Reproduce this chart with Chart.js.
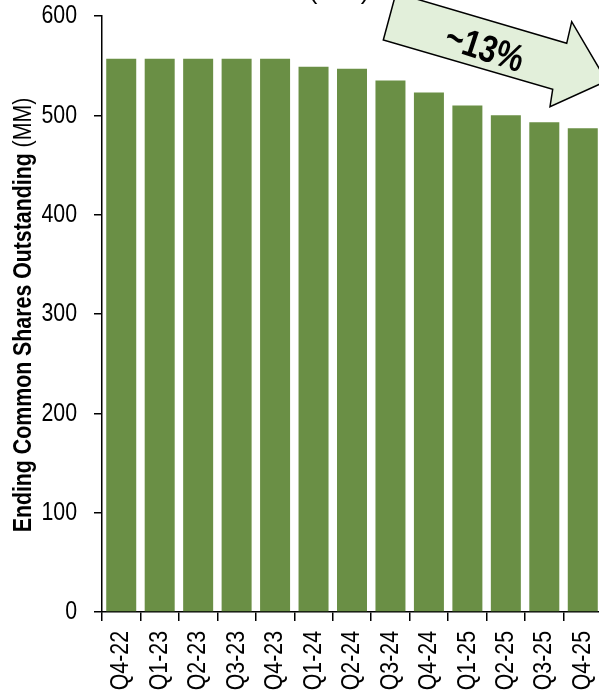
<!DOCTYPE html>
<html>
<head>
<meta charset="utf-8">
<script src="https://cdn.jsdelivr.net/npm/chart.js@4.4.1/dist/chart.umd.min.js"></script>
<style>
html,body{margin:0;padding:0;background:#fff;overflow:hidden;}
#c{display:block;}
</style>
</head>
<body>
<canvas id="c" width="602" height="693"></canvas>
<script>
// ---- data ----
const categories = ['Q4-22','Q1-23','Q2-23','Q3-23','Q4-23','Q1-24','Q2-24','Q3-24','Q4-24','Q1-25','Q2-25','Q3-25','Q4-25'];
const sharesOutstanding = [557, 557, 557, 557, 557, 549, 547, 535, 523, 510, 500, 493, 487];
const yTickValues = [0, 100, 200, 300, 400, 500, 600];
const yTitleMain = 'Ending Common Shares Outstanding';
const yTitleUnit = '(MM)';
const headerText = '(MM)';
const arrowLabel = '~13%';

// Narrow face emulation: no "Arial Narrow" installed, so text whose font list
// starts with the marker family is drawn horizontally condensed.
const NARROW = 0.82;
const FONT = '"NarrowX", "Liberation Sans", Arial, sans-serif';
(function patchCtx() {
  const P = CanvasRenderingContext2D.prototype;
  const fill = P.fillText, measure = P.measureText;
  P.fillText = function (t, x, y, mw) {
    if (this.font.indexOf('NarrowX') >= 0) {
      this.save();
      this.translate(x, y);
      this.scale(NARROW, 1);
      fill.call(this, t, 0, 0);
      this.restore();
    } else {
      fill.call(this, t, x, y, mw);
    }
  };
  P.measureText = function (t) {
    const m = measure.call(this, t);
    if (this.font.indexOf('NarrowX') >= 0) {
      return {
        width: m.width * NARROW,
        actualBoundingBoxAscent: m.actualBoundingBoxAscent,
        actualBoundingBoxDescent: m.actualBoundingBoxDescent,
        actualBoundingBoxLeft: m.actualBoundingBoxLeft * NARROW,
        actualBoundingBoxRight: m.actualBoundingBoxRight * NARROW
      };
    }
    return m;
  };
})();
Chart.defaults.font.family = FONT;

const decor = {
  id: 'decor',
  afterDraw(chart) {
    const ctx = chart.ctx;
    // cut-off header text
    ctx.save();
    ctx.fillStyle = '#000';
    ctx.font = '26px "Liberation Sans", Arial, sans-serif';
    ctx.textAlign = 'center';
    ctx.textBaseline = 'alphabetic';
    ctx.fillText(headerText, 339, -1);
    ctx.restore();

    // y-axis title (mixed weights)
    ctx.save();
    ctx.translate(31, 315);
    ctx.rotate(-Math.PI / 2);
    ctx.fillStyle = '#000';
    ctx.textBaseline = 'alphabetic';
    const boldFont = 'bold 26px ' + FONT;
    const regFont = '26px ' + FONT;
    ctx.font = boldFont;
    const w1 = ctx.measureText(yTitleMain + ' ').width;
    ctx.font = regFont;
    const w2 = ctx.measureText(yTitleUnit).width;
    const x0 = -(w1 + w2) / 2;
    ctx.textAlign = 'left';
    ctx.font = boldFont;
    ctx.fillText(yTitleMain + ' ', x0, 0);
    ctx.font = regFont;
    ctx.fillText(yTitleUnit, x0 + w1, 0);
    ctx.restore();

    // arrow
    ctx.save();
    ctx.beginPath();
    ctx.moveTo(396, -7);
    ctx.lineTo(566.7, 43.3);
    ctx.lineTo(571.7, 21.7);
    ctx.lineTo(606.6, 81);
    ctx.lineTo(550, 106.7);
    ctx.lineTo(552.7, 89.3);
    ctx.lineTo(383.3, 40);
    ctx.closePath();
    ctx.fillStyle = '#E2EFDA';
    ctx.fill();
    ctx.lineWidth = 1.5;
    ctx.strokeStyle = '#000';
    ctx.stroke();
    ctx.translate(484, 50);
    ctx.rotate(18 * Math.PI / 180);
    ctx.fillStyle = '#000';
    ctx.font = 'bold 38px ' + FONT;
    ctx.textAlign = 'center';
    ctx.textBaseline = 'middle';
    ctx.fillText(arrowLabel, 0, 0);
    ctx.restore();
  }
};

new Chart(document.getElementById('c'), {
  type: 'bar',
  data: {
    labels: categories,
    datasets: [{
      data: sharesOutstanding,
      backgroundColor: '#6A8F45',
      borderWidth: 0,
      barPercentage: 0.78,
      categoryPercentage: 1.0
    }]
  },
  options: {
    responsive: false,
    animation: false,
    devicePixelRatio: 1,
    layout: { padding: { top: 16, right: 0, left: 0, bottom: 0 } },
    plugins: { legend: { display: false }, tooltip: { enabled: false }, title: { display: false } },
    scales: {
      x: {
        grid: { drawOnChartArea: false, tickLength: 9, color: '#000', lineWidth: 1.5, offset: true },
        border: { color: '#000', width: 1.5 },
        ticks: { color: '#000', font: { size: 26 }, minRotation: 90, maxRotation: 90, padding: 10, autoSkip: false },
        afterFit: s => { s.height = 81; s.paddingLeft = 0; s.paddingRight = 0; }
      },
      y: {
        min: 0, max: 600,
        afterBuildTicks: s => { s.ticks = yTickValues.map(v => ({ value: v })); },
        ticks: { color: '#000', font: { size: 26 }, padding: 17 },
        grid: { drawOnChartArea: false, tickLength: 8, color: '#000', lineWidth: 1.5 },
        border: { color: '#000', width: 1.5 },
        afterFit: s => { s.width = 102; s.paddingTop = 0; s.paddingBottom = 0; }
      }
    }
  },
  plugins: [decor]
});
</script>
</body>
</html>
